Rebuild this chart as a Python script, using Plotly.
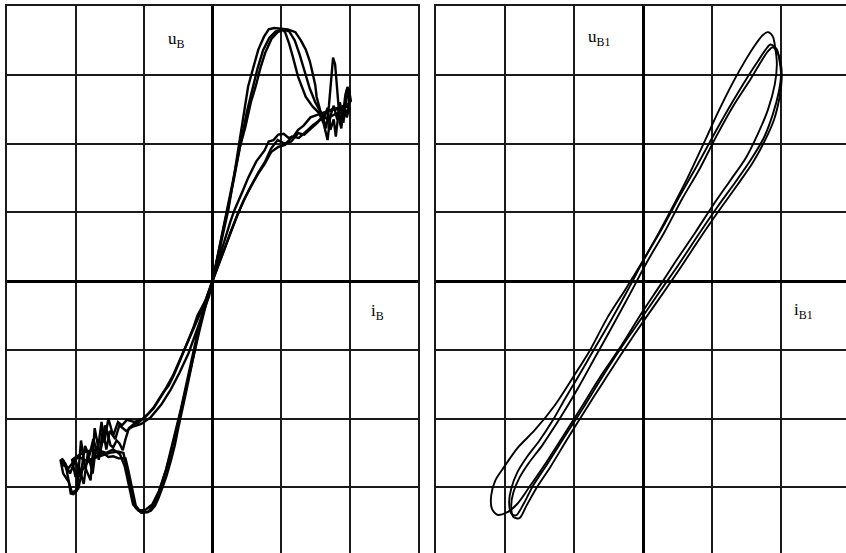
import plotly.graph_objects as go

# ---------------- Left panel: u_B vs i_B (grid divisions) ----------------
iB_1 = [0, 0.12, 0.23, 0.31, 0.38, 0.45, 0.52, 0.60, 0.67, 0.75, 0.82, 0.90, 0.99, 1.10, 1.21, 1.29, 1.36, 1.42, 1.46, 1.50, 1.52, 1.57,
        1.62, 1.66, 1.70, 1.73, 1.76, 1.79, 1.81, 1.84, 1.86, 1.88, 1.91, 1.94, 1.97, 2.00, 1.99, 1.98, 1.92, 1.87,
        1.76, 1.65, 1.55, 1.43, 1.33, 1.25, 1.18, 1.11, 1.04, 0.96, 0.89, 0.82, 0.76, 0.70, 0.64, 0.58, 0.52, 0.45, 0.38, 0.32, 0.26, 0.20, 0.14, 0.09, 0.04, 0,
        -0.05, -0.10, -0.16, -0.22, -0.28, -0.35, -0.42, -0.50, -0.57, -0.64, -0.72, -0.79, -0.86, -0.93, -1.00, -1.08, -1.15, -1.22,
        -1.27, -1.31, -1.36, -1.40, -1.45, -1.49, -1.53, -1.57, -1.61, -1.65, -1.69, -1.72, -1.75, -1.78, -1.83, -1.87, -1.90, -1.92, -1.95, -1.98,
        -2.03, -2.07, -2.10, -2.13, -2.17, -2.20, -2.18, -2.10, -2.02, -1.95, -1.88, -1.80, -1.70, -1.60, -1.52, -1.45, -1.37, -1.27,
        -1.23, -1.20, -1.16, -1.12, -1.07, -1.02, -0.96, -0.90, -0.84, -0.79, -0.73, -0.67, -0.61, -0.55, -0.50, -0.44, -0.38, -0.32, -0.27, -0.22, -0.17, -0.12, -0.06, 0]
uB_1 = [0, 0.52, 1.03, 1.50, 1.95, 2.40, 2.83, 3.12, 3.37, 3.55, 3.66, 3.68, 3.67, 3.66, 3.62, 3.50, 3.37, 3.20, 3.03, 2.85, 2.68, 2.49,
        2.35, 2.22, 2.55, 2.95, 3.25, 3.15, 2.90, 2.49, 2.30, 2.22, 2.50, 2.71, 2.82, 2.76, 2.60, 2.52, 2.56, 2.49,
        2.50, 2.46, 2.42, 2.38, 2.26, 2.20, 2.10, 2.08, 2.14, 2.13, 2.05, 2.03, 1.90, 1.82, 1.74, 1.62, 1.50, 1.33, 1.18, 1.03, 0.86, 0.67, 0.47, 0.28, 0.12, 0,
        -0.14, -0.28, -0.40, -0.50, -0.68, -0.86, -1.02, -1.22, -1.38, -1.52, -1.62, -1.73, -1.84, -1.92, -1.98, -2.06, -2.08, -2.14,
        -2.30, -2.46, -2.36, -2.32, -2.42, -2.39, -2.22, -2.10, -2.35, -2.54, -2.30, -2.14, -2.55, -2.90, -2.78, -2.68, -2.45, -2.32, -2.70, -3.05,
        -3.10, -3.09, -2.90, -2.75, -2.62, -2.58, -2.68, -2.72, -2.62, -2.55, -2.60, -2.62, -2.55, -2.50, -2.56, -2.55, -2.58, -2.58,
        -2.75, -2.90, -3.10, -3.27, -3.33, -3.35, -3.36, -3.34, -3.27, -3.16, -3.00, -2.83, -2.62, -2.39, -2.14, -1.88, -1.59, -1.30, -1.04, -0.79, -0.57, -0.35, -0.16, 0]

iB_2 = [0, 0.10, 0.21, 0.31, 0.40, 0.48, 0.56, 0.63, 0.70, 0.77, 0.86, 0.95, 1.02, 1.06, 1.12, 1.17, 1.25, 1.36, 1.46,
        1.55, 1.62, 1.68, 1.72, 1.77, 1.82, 1.86, 1.91, 1.95, 1.99, 2.02, 1.96, 1.85, 1.75,
        1.64, 1.53, 1.44, 1.34, 1.25, 1.15, 1.05, 0.95, 0.85, 0.77, 0.67, 0.57, 0.47, 0.37, 0.27, 0.17, 0.08, 0,
        -0.05, -0.13, -0.24, -0.35, -0.48, -0.61, -0.75, -0.90, -1.04, -1.17, -1.26,
        -1.36, -1.42, -1.50, -1.55, -1.60, -1.66, -1.70, -1.75, -1.82, -1.88, -1.95, -2.00, -2.05, -1.98, -1.85, -1.70, -1.55, -1.45, -1.35,
        -1.28, -1.22, -1.16, -1.08, -0.98, -0.88, -0.78, -0.68, -0.58, -0.47, -0.36, -0.25, -0.13, 0]
uB_2 = [0, 0.50, 1.02, 1.55, 1.95, 2.24, 2.60, 2.83, 3.10, 3.32, 3.52, 3.62, 3.65, 3.62, 3.45, 3.27, 2.97, 2.68, 2.54,
        2.45, 2.30, 2.05, 2.40, 2.55, 2.35, 2.60, 2.30, 2.62, 2.80, 2.62, 2.55, 2.52, 2.50,
        2.44, 2.30, 2.22, 2.13, 2.15, 2.03, 2.00, 2.05, 1.92, 1.74, 1.58, 1.40, 1.20, 0.98, 0.73, 0.45, 0.20, 0,
        -0.22, -0.45, -0.75, -1.05, -1.33, -1.58, -1.80, -1.98, -2.08, -2.12, -2.18,
        -2.10, -2.30, -2.18, -2.45, -2.15, -2.60, -2.40, -2.80, -2.50, -2.95, -2.70, -2.85, -2.60, -2.55, -2.48, -2.45, -2.50, -2.45, -2.52,
        -2.70, -3.00, -3.25, -3.34, -3.33, -3.25, -3.05, -2.75, -2.35, -1.90, -1.40, -0.90, -0.42, 0]

iB_3 = [0, 0.11, 0.22, 0.32, 0.41, 0.50, 0.58, 0.66, 0.74, 0.83, 0.92, 1.02, 1.12, 1.20, 1.27, 1.35, 1.42, 1.50, 1.57,
        1.63, 1.68, 1.72, 1.77, 1.80, 1.84, 1.88, 1.90, 1.96, 2.00, 1.94, 1.82, 1.70,
        1.58, 1.47, 1.36, 1.26, 1.16, 1.06, 0.96, 0.86, 0.76, 0.66, 0.55, 0.45, 0.36, 0.27, 0.17, 0.08, 0,
        -0.09, -0.20, -0.32, -0.45, -0.58, -0.72, -0.86, -1.00, -1.14, -1.25, -1.32, -1.38,
        -1.45, -1.52, -1.58, -1.62, -1.68, -1.74, -1.80, -1.86, -1.93, -2.00, -2.08, -2.15, -2.22, -2.18, -2.10, -2.05, -1.96, -1.90, -1.80, -1.65,
        -1.50, -1.38, -1.30,
        -1.25, -1.18, -1.12, -1.04, -0.94, -0.84, -0.74, -0.64, -0.53, -0.42, -0.30, -0.19, -0.09, 0]
uB_3 = [0, 0.51, 1.02, 1.52, 2.00, 2.45, 2.78, 3.10, 3.36, 3.54, 3.63, 3.66, 3.63, 3.50, 3.30, 3.05, 2.80, 2.60, 2.48,
        2.36, 2.52, 2.20, 2.35, 2.10, 2.45, 2.30, 2.55, 2.38, 2.52, 2.45, 2.44, 2.38,
        2.35, 2.27, 2.17, 2.08, 2.10, 1.98, 1.95, 1.88, 1.70, 1.55, 1.36, 1.16, 0.95, 0.72, 0.47, 0.22, 0,
        -0.25, -0.52, -0.80, -1.10, -1.38, -1.63, -1.85, -2.00, -2.05, -2.02, -2.10, -2.05,
        -2.25, -2.00, -2.35, -2.05, -2.50, -2.30, -2.55, -2.40, -2.85, -2.60, -2.80, -2.65, -2.60, -2.80, -2.92, -3.08, -3.02, -2.75, -2.60, -2.55,
        -2.50, -2.48, -2.50,
        -2.75, -3.10, -3.30, -3.37, -3.36, -3.22, -2.95, -2.62, -2.18, -1.70, -1.20, -0.72, -0.32, 0]

# ---------------- Right panel: u_B1 vs i_B1 (grid divisions) ----------------
iB1_1 = [1.81, 1.88, 1.92, 1.94, 1.91, 1.81, 1.66, 1.49, 1.27, 1.02, 0.76, 0.47, 0.25, -0.01, -0.34, -0.63, -0.92, -1.18, -1.43, -1.65,
         -1.82, -1.98, -2.11, -2.19, -2.20, -2.14, -2.01, -1.82, -1.57, -1.28, -1.02, -0.77, -0.52, -0.26, -0.04, 0.19, 0.42, 0.66, 0.87, 1.09,
         1.31, 1.49, 1.63, 1.73, 1.81]
uB1_1 = [3.62, 3.56, 3.37, 3.15, 2.86, 2.49, 2.13, 1.79, 1.47, 1.11, 0.71, 0.28, -0.06, -0.45, -0.98, -1.41, -1.88, -2.29, -2.68, -3.00,
         -3.24, -3.37, -3.40, -3.31, -3.12, -2.90, -2.70, -2.43, -2.17, -1.81, -1.41, -1.01, -0.54, -0.13, 0.23, 0.63, 1.06, 1.53, 1.98, 2.46,
         2.90, 3.22, 3.44, 3.57, 3.62]
iB1_2 = [1.85, 1.94, 1.98, 2.00, 1.97, 1.88, 1.75, 1.56, 1.34, 1.08, 0.80, 0.51, 0.28, 0.00, -0.31, -0.60, -0.87, -1.14, -1.38, -1.59,
         -1.73, -1.84, -1.91, -1.94, -1.91, -1.82, -1.69, -1.50, -1.31, -1.14, -0.95, -0.73, -0.48, -0.22, 0.03, 0.28, 0.54, 0.79, 1.05, 1.30,
         1.53, 1.68, 1.78, 1.85]
uB1_2 = [3.44, 3.37, 3.19, 3.00, 2.76, 2.42, 2.08, 1.76, 1.44, 1.08, 0.67, 0.23, -0.10, -0.51, -0.96, -1.41, -1.85, -2.27, -2.65, -2.97,
         -3.24, -3.41, -3.38, -3.22, -3.02, -2.78, -2.57, -2.32, -2.03, -1.73, -1.41, -1.03, -0.60, -0.13, 0.34, 0.77, 1.25, 1.69, 2.17, 2.61,
         2.99, 3.22, 3.37, 3.44]
iB1_3 = [1.88, 1.95, 2.00, 2.01, 1.98, 1.90, 1.76, 1.59, 1.37, 1.12, 0.83, 0.54, 0.31, 0.03, -0.28, -0.57, -0.85, -1.11, -1.34, -1.55,
         -1.69, -1.79, -1.88, -1.91, -1.88, -1.79, -1.65, -1.46, -1.27, -1.09, -0.92, -0.70, -0.45, -0.19, 0.06, 0.31, 0.57, 0.82, 1.06, 1.31,
         1.56, 1.71, 1.81, 1.88]
uB1_3 = [3.40, 3.32, 3.15, 2.93, 2.68, 2.35, 2.03, 1.72, 1.40, 1.05, 0.63, 0.19, -0.15, -0.55, -1.01, -1.46, -1.90, -2.32, -2.70, -3.02,
         -3.27, -3.45, -3.43, -3.27, -3.08, -2.86, -2.64, -2.39, -2.10, -1.81, -1.52, -1.12, -0.67, -0.19, 0.28, 0.71, 1.20, 1.63, 2.10, 2.55,
         2.94, 3.19, 3.34, 3.40]

labels = {"uB": "u<sub>B</sub>", "iB": "i<sub>B</sub>", "uB1": "u<sub>B1</sub>", "iB1": "i<sub>B1</sub>"}

fig = go.Figure()
for xs, ys in [(iB_1, uB_1), (iB_2, uB_2), (iB_3, uB_3)]:
    fig.add_trace(go.Scatter(x=xs, y=ys, mode="lines", xaxis="x", yaxis="y",
                             line=dict(color="#000", width=2.4), hoverinfo="skip", showlegend=False))
for xs, ys in [(iB1_1, uB1_1), (iB1_2, uB1_2), (iB1_3, uB1_3)]:
    fig.add_trace(go.Scatter(x=xs, y=ys, mode="lines", xaxis="x2", yaxis="y2",
                             line=dict(color="#000", width=1.9, shape="spline", smoothing=0.8),
                             hoverinfo="skip", showlegend=False))

W, H = 846, 553
TOP = 6
common = dict(showgrid=True, gridcolor="#1a1a1a", gridwidth=2, dtick=1, tick0=0,
              zeroline=True, zerolinecolor="#000", zerolinewidth=3,
              showticklabels=False, ticks="", linecolor="#1a1a1a", linewidth=2,
              fixedrange=True)
yr = [-3.956, 4.0]
fig.update_layout(
    width=W, height=H, autosize=False,
    margin=dict(l=0, r=0, t=TOP, b=0, pad=0),
    paper_bgcolor="white", plot_bgcolor="white",
    xaxis=dict(domain=[7 / W, 418 / W], range=[-3, 3], anchor="y", side="top",
               showline=True, mirror=False, **common),
    yaxis=dict(domain=[0, 1], range=yr, anchor="x", showline=True, mirror=True, **common),
    xaxis2=dict(domain=[436 / W, 1], range=[-3, 2.942], anchor="y2", side="top",
                showline=True, mirror=False, **common),
    yaxis2=dict(domain=[0, 1], range=yr, anchor="x2", showline=True, mirror=False, **common),
)

font = dict(family="Liberation Serif, Times New Roman, serif", size=17, color="#000")
for key, px, py in [("uB", 166, 40), ("iB", 369, 312), ("uB1", 586, 38), ("iB1", 792, 311)]:
    fig.add_annotation(text=labels[key], xref="paper", yref="paper",
                       x=px / W, y=1 - (py - TOP) / (H - TOP), xanchor="left", yanchor="middle",
                       showarrow=False, font=font)

fig.write_html("out.html", config={"displayModeBar": False, "staticPlot": True},
               post_script="document.body.style.margin='0';")
